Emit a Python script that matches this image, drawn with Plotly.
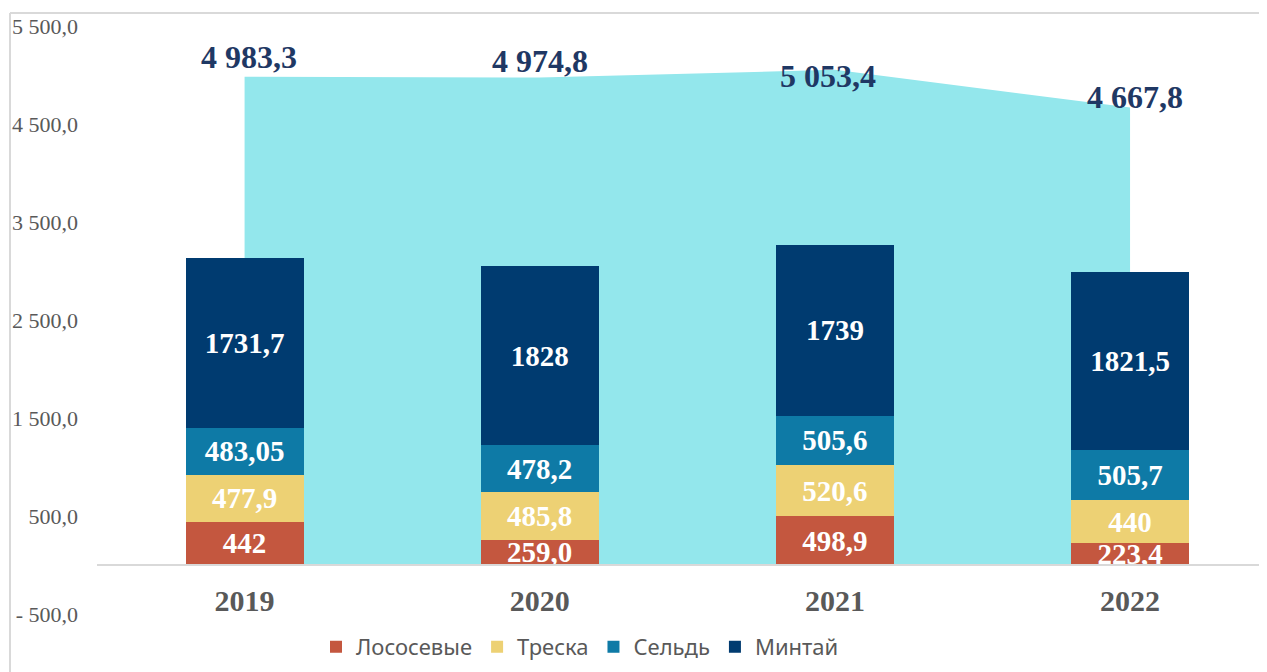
import plotly.graph_objects as go

years = ["2019", "2020", "2021", "2022"]
series_names = ["Лососевые", "Треска", "Сельдь", "Минтай"]
salmon = [442, 259.0, 498.9, 223.4]
cod = [477.9, 485.8, 520.6, 440]
herring = [483.05, 478.2, 505.6, 505.7]
pollock = [1731.7, 1828, 1739, 1821.5]
salmon_text = ["442", "259,0", "498,9", "223,4"]
cod_text = ["477,9", "485,8", "520,6", "440"]
herring_text = ["483,05", "478,2", "505,6", "505,7"]
pollock_text = ["1731,7", "1828", "1739", "1821,5"]
totals = [4983.3, 4974.8, 5053.4, 4667.8]
totals_text = ["4 983,3", "4 974,8", "5 053,4", "4 667,8"]
y_tickvals = [-500, 500, 1500, 2500, 3500, 4500, 5500]
y_ticktext = ["- 500,0", "500,0", "1 500,0", "2 500,0", "3 500,0", "4 500,0", "5 500,0"]

colors = ["#C4573F", "#EDD174", "#0E7AA6", "#003B70"]
area_color = "#93E7EC"
label_shift = [(4, 20), (0, 17), (-7, -6), (5, 11)]

# page body has an 8px margin: figure origin sits at (8, 8) of the window
OFF = 8
W, H = 1267 - OFF, 672 - OFF
ML, MR, MT, MB = 97 - OFF, 0, 13 - OFF, 0
y_range = [-1092, 5633]
x_range = [-0.5, 3.464]
zero_pos = (0 - y_range[0]) / (y_range[1] - y_range[0])
serif = "Liberation Serif"

fig = go.Figure()
fig.add_trace(go.Scatter(
    x=years, y=totals, mode="lines", line=dict(width=0, color=area_color),
    fill="tozeroy", fillcolor=area_color, showlegend=False, hoverinfo="skip",
    xaxis="x", yaxis="y"))

for name, vals, txt, col in zip(series_names, [salmon, cod, herring, pollock],
                                [salmon_text, cod_text, herring_text, pollock_text], colors):
    fig.add_trace(go.Bar(
        x=years, y=vals, name=name, text=txt, marker=dict(color=col, line=dict(width=0)),
        textposition="inside", insidetextanchor="middle", textangle=0, constraintext="none",
        textfont=dict(family=serif, size=29, color="white", weight="bold"),
        width=0.4, xaxis="x2", yaxis="y2"))

# category axes: annotation x is the category's serial index
for i, (tot, txt, (dx, dy)) in enumerate(zip(totals, totals_text, label_shift)):
    fig.add_annotation(x=i, y=tot, text="<b>" + txt + "</b>", showarrow=False,
                       xshift=dx, yshift=dy, xref="x2", yref="y2",
                       font=dict(family=serif, size=32, color="#1F3864"))

axis_common = dict(showgrid=False, zeroline=False)
fig.update_layout(
    width=W, height=H, margin=dict(l=ML, r=MR, t=MT, b=MB),
    paper_bgcolor="white", plot_bgcolor="white", barmode="stack",
    xaxis=dict(type="category", range=x_range, anchor="free", position=zero_pos,
               showline=True, linecolor="#D9D9D9", linewidth=2, ticks="",
               ticklabelstandoff=9,
               tickfont=dict(family=serif, size=30, color="#595959", weight="bold"),
               **axis_common),
    yaxis=dict(range=y_range, tickvals=y_tickvals, ticktext=y_ticktext, ticks="",
               ticklabelstandoff=18, showline=False,
               tickfont=dict(family=serif, size=22, color="#595959"), **axis_common),
    xaxis2=dict(type="category", range=x_range, overlaying="x", visible=False, **axis_common),
    yaxis2=dict(range=y_range, overlaying="y", visible=False, **axis_common),
    legend=dict(orientation="h", x=0.4128, xanchor="center", y=0.038, yanchor="middle",
                traceorder="normal", font=dict(family="Noto Sans", size=22, color="#595959"),
                bgcolor="rgba(0,0,0,0)"),
    showlegend=True,
)

bx = (10 - ML - OFF) / (W - ML - MR)
fig.add_shape(type="line", xref="paper", yref="paper", x0=bx, x1=1.01, y0=1, y1=1,
              line=dict(color="#D9D9D9", width=2))
fig.add_shape(type="line", xref="paper", yref="paper", x0=bx, x1=bx, y0=-0.05, y1=1,
              line=dict(color="#D9D9D9", width=2))

fig.write_html("out.html")
